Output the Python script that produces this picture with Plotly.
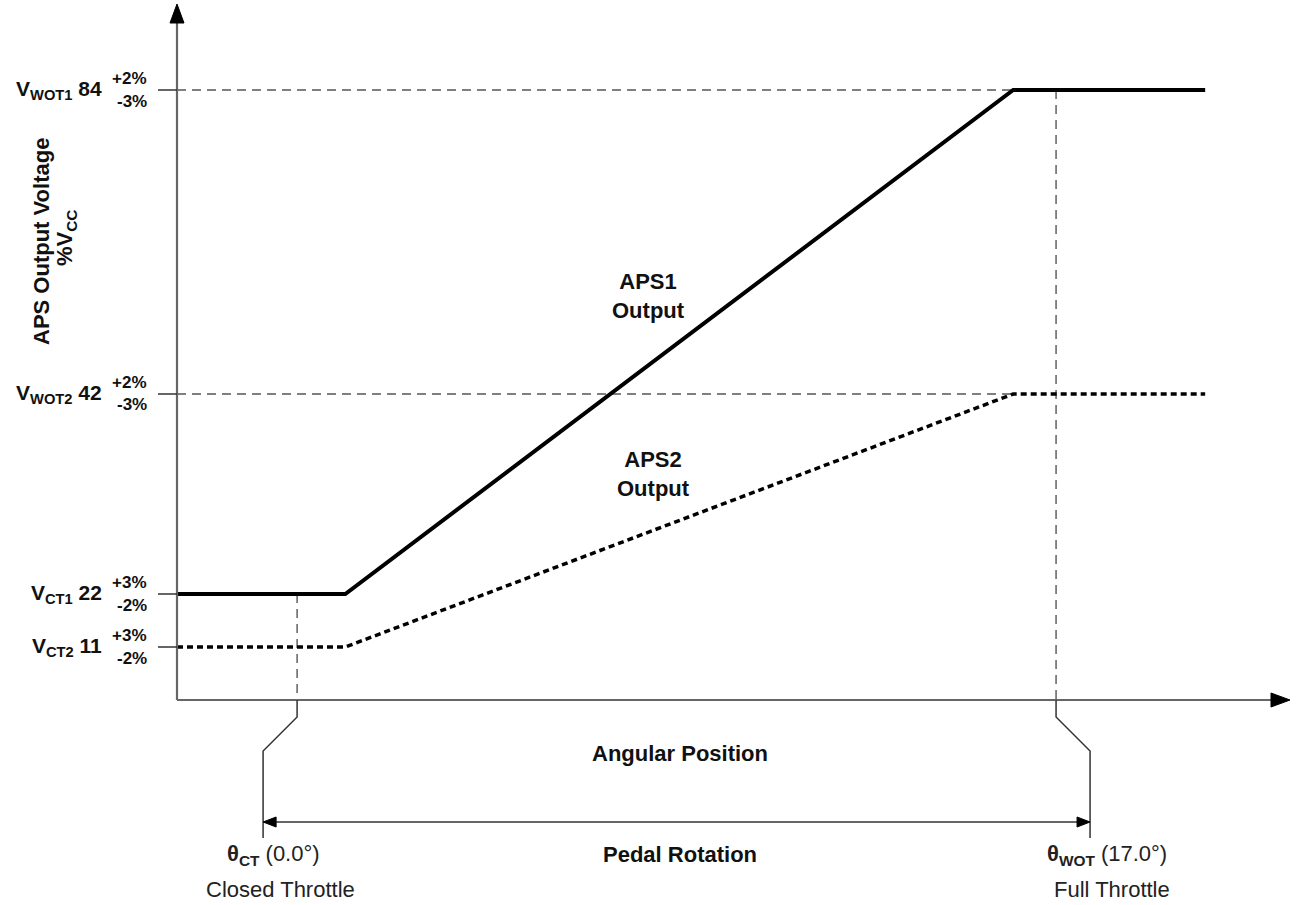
import plotly.graph_objects as go

# ---------------- data ----------------
theta_ct = 0.0          # closed throttle angle (deg)
theta_wot = 17.0        # wide-open throttle angle (deg)
aps_angle = [-2.69, 1.08, 16.04, 20.34]     # angular positions of curve break points (deg)
aps1_pct = [22, 22, 84, 84]                  # APS1 output (%Vcc)
aps2_pct = [11, 11, 42, 42]                  # APS2 output (%Vcc)
level_pct = [84, 42, 22, 11]
level_name = ["WOT1", "WOT2", "CT1", "CT2"]
tol_plus = ["+2%", "+2%", "+3%", "+3%"]
tol_minus = ["-3%", "-3%", "-2%", "-2%"]
# schematic (non-linear) vertical placement of each %Vcc level on the diagram
level_height = {84: 610, 42: 306, 22: 106, 11: 53}

# ---------------- geometry helpers ----------------
L, R, T, B = 177, 1290, 4, 700
XMIN, XMAX = -2.69, 22.24
YMIN, YMAX = 0, B - T

def px(x):
    return (x - L) / (R - L)

def py(y):
    return (B - y) / (B - T)

def xpix(theta):
    return L + (theta - XMIN) / (XMAX - XMIN) * (R - L)

def ypix(pct):
    return B - level_height[pct]

FONT = "Liberation Sans, Arial, sans-serif"
DARK = "#111111"
GREY = "#555555"

fig = go.Figure()

# dashed reference lines at WOT levels
for pct in (84, 42):
    fig.add_trace(go.Scatter(
        x=[XMIN, aps_angle[2]], y=[level_height[pct]] * 2, mode="lines",
        line=dict(color=GREY, width=1.4, dash="9px,6px"), hoverinfo="skip", showlegend=False))

# dashed vertical lines at closed / full throttle
fig.add_trace(go.Scatter(
    x=[theta_ct, theta_ct], y=[level_height[aps1_pct[0]], 0], mode="lines",
    line=dict(color=GREY, width=1.4, dash="9px,6px"), hoverinfo="skip", showlegend=False))
fig.add_trace(go.Scatter(
    x=[theta_wot, theta_wot], y=[level_height[aps1_pct[-1]], 0], mode="lines",
    line=dict(color=GREY, width=1.4, dash="9px,6px"), hoverinfo="skip", showlegend=False))

# APS curves
fig.add_trace(go.Scatter(
    x=aps_angle, y=[level_height[v] for v in aps2_pct], mode="lines",
    line=dict(color="#000000", width=3.5, dash="6px,4px"), name="APS2", showlegend=False))
fig.add_trace(go.Scatter(
    x=aps_angle, y=[level_height[v] for v in aps1_pct], mode="lines",
    line=dict(color="#000000", width=4), name="APS1", showlegend=False))

shapes = []
# axes
shapes.append(dict(type="line", xref="paper", yref="paper", x0=0, x1=0, y0=0, y1=py(22),
                   line=dict(color="#666666", width=2.2)))
shapes.append(dict(type="line", xref="paper", yref="paper", x0=0, x1=px(1275), y0=0, y1=0,
                   line=dict(color="#666666", width=2.2)))
# axis arrowheads
shapes.append(dict(type="path", xref="paper", yref="paper",
                   path=f"M {px(170)},{py(23)} L {px(177)},{py(4)} L {px(184)},{py(23)} Z",
                   fillcolor="#000000", line=dict(color="#000000", width=1)))
shapes.append(dict(type="path", xref="paper", yref="paper",
                   path=f"M {px(1271)},{py(693)} L {px(1290)},{py(700)} L {px(1271)},{py(707)} Z",
                   fillcolor="#000000", line=dict(color="#000000", width=1)))
# tick marks at levels
for pct in level_pct:
    shapes.append(dict(type="line", xref="paper", yref="paper", x0=px(158), x1=0,
                       y0=py(ypix(pct)), y1=py(ypix(pct)), line=dict(color="#333333", width=1.5)))

# dimension brackets below the axis
xc, xw = xpix(theta_ct), xpix(theta_wot)
xcl, xwr = xc - 34, xw + 34
shapes.append(dict(type="path", xref="paper", yref="paper",
                   path=f"M {px(xc)},{py(700)} L {px(xc)},{py(717)} L {px(xcl)},{py(751)} L {px(xcl)},{py(838)}",
                   line=dict(color="#333333", width=1.5)))
shapes.append(dict(type="path", xref="paper", yref="paper",
                   path=f"M {px(xw)},{py(700)} L {px(xw)},{py(717)} L {px(xwr)},{py(751)} L {px(xwr)},{py(838)}",
                   line=dict(color="#333333", width=1.5)))
shapes.append(dict(type="line", xref="paper", yref="paper", x0=px(xcl + 8), x1=px(xwr - 8),
                   y0=py(822), y1=py(822), line=dict(color="#333333", width=1.5)))
shapes.append(dict(type="path", xref="paper", yref="paper",
                   path=f"M {px(xcl)},{py(822)} L {px(xcl + 13)},{py(817)} L {px(xcl + 13)},{py(827)} Z",
                   fillcolor="#000000", line=dict(color="#000000", width=1)))
shapes.append(dict(type="path", xref="paper", yref="paper",
                   path=f"M {px(xwr)},{py(822)} L {px(xwr - 13)},{py(817)} L {px(xwr - 13)},{py(827)} Z",
                   fillcolor="#000000", line=dict(color="#000000", width=1)))

ann = []

def add_text(x, y, text, size=22, xanchor="center", angle=0, color=DARK):
    ann.append(dict(xref="paper", yref="paper", x=px(x), y=py(y), text=text,
                    showarrow=False, xanchor=xanchor, yanchor="middle", textangle=angle,
                    font=dict(family=FONT, size=size, color=color)))

# level labels
for name, pct, tp, tm in zip(level_name, level_pct, tol_plus, tol_minus):
    y = ypix(pct)
    add_text(104, y, f"<b>V<sub>{name}</sub> {pct}</b>", size=21, xanchor="right")
    add_text(149, y - 12, f"<b>{tp}</b>", size=17, xanchor="right")
    add_text(149, y + 11, f"<b>{tm}</b>", size=17, xanchor="right")

# y title
add_text(41, 242, "<b>APS Output Voltage</b>", size=22, angle=-90)
add_text(66, 238, "<b>%V<sub>CC</sub></b>", size=22, angle=-90)

# curve labels
add_text(648, 296, "<b>APS1</b><br><b>Output</b>", size=22)
add_text(653, 474, "<b>APS2</b><br><b>Output</b>", size=22)

# bottom texts
add_text(680, 753, "<b>Angular Position</b>", size=22)
add_text(680, 854, "<b>Pedal Rotation</b>", size=22)
add_text(xc - 24, 855, f"<b>θ<sub>CT</sub></b> ({theta_ct:.1f}°)", size=22, color="#222222")
add_text(xc - 17, 889, "Closed Throttle", size=22, color="#222222")
add_text(xw + 51, 855, f"<b>θ<sub>WOT</sub></b> ({theta_wot:.1f}°)", size=22, color="#222222")
add_text(xw + 56, 889, "Full Throttle", size=22, color="#222222")

fig.update_layout(
    width=1296, height=905,
    margin=dict(l=L, r=1296 - R, t=T, b=905 - B),
    paper_bgcolor="white", plot_bgcolor="white",
    xaxis=dict(range=[XMIN, XMAX], visible=False, fixedrange=True),
    yaxis=dict(range=[YMIN, YMAX], visible=False, fixedrange=True),
    shapes=shapes, annotations=ann, showlegend=False,
    font=dict(family=FONT, color=DARK),
)

fig.write_html("out.html", config={"displayModeBar": False},
               post_script="document.body.style.margin='0px';document.body.style.overflow='hidden';")
